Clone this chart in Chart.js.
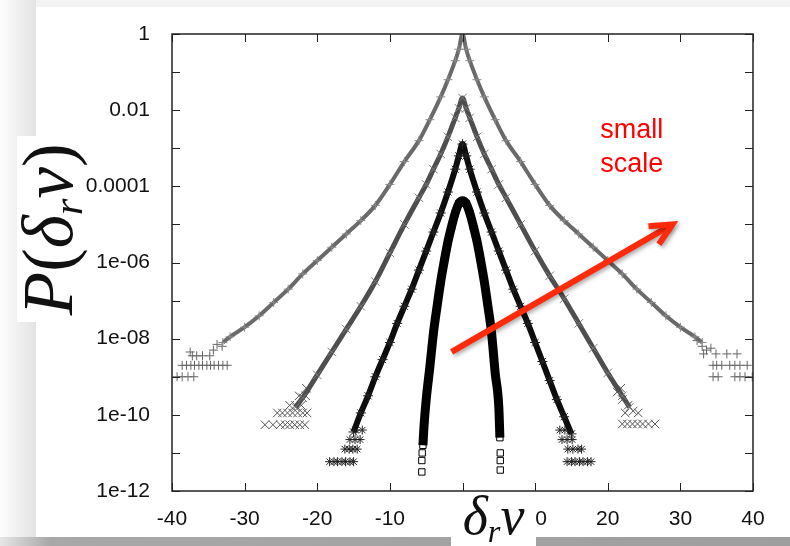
<!DOCTYPE html>
<html>
<head>
<meta charset="utf-8">
<script src="https://cdn.jsdelivr.net/npm/chart.js@4.4.1/dist/chart.umd.min.js"></script>
<style>
  html, body { margin: 0; padding: 0; background: #f3f3f3; }
  #wrap { position: relative; width: 790px; height: 546px; overflow: hidden; background: #f3f3f3; }
  #side { position: absolute; left: 0; top: 0; width: 36px; height: 546px; background: linear-gradient(to right, #fdfdfd, #e3e3e3); }
  #card { position: absolute; left: 36px; top: 7px; width: 800px; height: 530px; background: #fff; }
  #shadow { position: absolute; left: 0; top: 537px; width: 790px; height: 9px; background: linear-gradient(to right, #e6e6e6 0, #a8a8a8 50px, #9e9e9e 100%); }
  #c { position: absolute; left: 0; top: 0; }
  .lbl { position: absolute; background: #fff; display: flex; align-items: center; justify-content: center; white-space: nowrap;
         font-family: "Liberation Serif", "DejaVu Serif", serif; color: #111; }
  #ylab { left: 17px; top: 136px; width: 66px; height: 186px; font-size: 71px; }
  #ylab span { display: inline-block; transform: rotate(-90deg); }
  #xlab { left: 451px; top: 492px; width: 85px; height: 54px; font-size: 54px; align-items: flex-start; line-height: 48px; }
  sub { font-size: 0.6em; vertical-align: -0.25em; }
</style>
</head>
<body>
<div id="wrap">
  <div id="side"></div>
  <div id="card"></div>
  <div id="shadow"></div>
  <canvas id="c" width="790" height="546"></canvas>
  <div class="lbl" id="ylab"><span><i>P</i>(<i>δ</i><sub><i>r</i></sub><i>v</i>)</span></div>
  <div class="lbl" id="xlab"><span><i>δ</i><sub><i>r</i></sub><i>v</i></span></div>
</div>
<script>
// ticks
const xTickValues = [-40, -30, -20, -10, 0, 10, 20, 30, 40];
const yTickValues = [1e-12, 1e-11, 1e-10, 1e-9, 1e-8, 1e-7, 1e-6, 1e-5, 1e-4, 1e-3, 1e-2, 1e-1, 1];
const yTickLabels = ['1e-12', '', '1e-10', '', '1e-08', '', '1e-06', '', '0.0001', '', '0.01', '', '1'];

// series, P given as log10 values
// "+" : largest scale
const plusX    = [-33, -32, -30, -28, -26, -24, -22, -20, -18, -16, -14, -12, -10, -8, -6, -4.5, -3, -2, -1, -0.5, 0, 0.5, 1, 2, 3, 4.5, 6, 8, 10, 12, 14, 16, 18, 20, 22, 24, 26, 28, 30, 32, 33];
const plusLogP = [-8.1, -7.95, -7.7, -7.4, -7.05, -6.7, -6.3, -5.95, -5.6, -5.25, -4.9, -4.5, -3.95, -3.35, -2.8, -2.25, -1.65, -1.2, -0.7, -0.4, 0, -0.4, -0.7, -1.2, -1.65, -2.25, -2.8, -3.35, -3.95, -4.5, -4.9, -5.25, -5.6, -5.95, -6.3, -6.7, -7.05, -7.4, -7.7, -7.95, -8.1];
const plusTailX    = [-39.3, -38.6, -37.8, -37, -38.6, -38, -37.4, -36.9, -36.3, -35.8, -35.2, -34.7, -34.2, -33.6, -33, -32.4, -37.5, -37.2, -36.6, -35.8, -34.8, -33.8, -33.1, -34.3,
                      32.3, 33, 33.6, 34.2, 34.9, 33.2, 36.4, 37.8, 34.5, 35, 35.7, 36.8, 37.5, 38.2, 39.2, 34.5, 35.2, 37.5, 38.2, 38.9, 39.9];
const plusTailLogP = [-9, -9, -9, -9, -8.7, -8.7, -8.7, -8.7, -8.7, -8.7, -8.7, -8.7, -8.7, -8.7, -8.7, -8.7, -8.35, -8.45, -8.45, -8.45, -8.45, -8.15, -8.2, -8.3,
                      -8.05, -8.2, -8.3, -8.25, -8.4, -8.4, -8.4, -8.4, -8.7, -8.7, -8.7, -8.7, -8.7, -8.7, -8.7, -9, -9, -9, -9, -9, -9];

// "x"
const crossX    = [-23, -22, -20, -18, -16, -14, -12, -10, -8, -6, -5, -4, -3, -2, -1, -0.5, 0, 0.5, 1, 2, 3, 4, 5, 6, 8, 10, 12, 14, 16, 18, 20, 22, 23];
const crossLogP = [-9.8, -9.55, -8.95, -8.35, -7.75, -7.15, -6.5, -5.75, -5.0, -4.3, -3.95, -3.55, -3.15, -2.7, -2.2, -1.95, -1.68, -1.95, -2.2, -2.7, -3.15, -3.55, -3.95, -4.3, -5.0, -5.7, -6.35, -6.95, -7.6, -8.25, -8.9, -9.5, -9.8];
const crossTailX    = [-27.2, -26.1, -25.1, -24.4, -23.8, -23.1, -22.4, -21.7, -25.5, -24.8, -24.1, -23.4, -22.7, -22, -21.4, -23.8, -23, -22.2, -22.5, -21.6, -21.5,
                       21.3, 22, 22.8, 23.5, 24.2, 22.4, 21.8, 22, 22.7, 23.4, 24.1, 24.8, 25.6, 26.5];
const crossTailLogP = [-10.26, -10.26, -10.26, -10.26, -10.26, -10.26, -10.26, -10.26, -9.95, -9.95, -9.95, -9.95, -9.95, -9.95, -9.95, -9.75, -9.75, -9.75, -9.5, -9.5, -9.3,
                       -9.4, -9.6, -9.75, -9.9, -9.95, -9.95, -9.3, -10.24, -10.24, -10.24, -10.24, -10.24, -10.24, -10.24];

// "*"
const starX    = [-15, -14, -13, -12, -11, -10, -9, -8, -7, -6, -5, -4, -3, -2, -1, -0.5, 0, 0.5, 1, 2, 3, 4, 5, 6, 7, 8, 9, 10, 11, 12, 13, 14, 15];
const starLogP = [-10.45, -9.95, -9.5, -9.0, -8.55, -8.1, -7.6, -7.15, -6.7, -6.2, -5.7, -5.2, -4.7, -4.15, -3.55, -3.2, -2.89, -3.2, -3.55, -4.15, -4.7, -5.2, -5.7, -6.2, -6.7, -7.15, -7.6, -8.1, -8.6, -9.1, -9.6, -10.05, -10.5];
const starTailX    = [-18.3, -17.7, -17.2, -16.6, -16.1, -15.5, -15, -16.2, -15.6, -15.1, -14.5, -15.5, -14.8, -14.1, -14.7, -13.8,
                      14.4, 15, 15.5, 16.1, 16.6, 17.2, 17.7, 14.5, 15.2, 15.9, 16.4, 13.7, 14.4, 15.1, 13.4, 14.1];
const starTailLogP = [-11.23, -11.23, -11.23, -11.23, -11.23, -11.23, -11.23, -10.9, -10.9, -10.9, -10.9, -10.65, -10.65, -10.65, -10.4, -10.4,
                      -11.23, -11.23, -11.23, -11.23, -11.23, -11.23, -11.23, -10.9, -10.9, -10.9, -10.9, -10.65, -10.65, -10.65, -10.4, -10.4];

// squares : smallest scale
const squareX    = [-5.45, -5.3, -5, -4.5, -4, -3.5, -3, -2.5, -2, -1.5, -1, -0.5, 0, 0.5, 1, 1.5, 2, 2.5, 3, 3.5, 4, 4.5, 5, 5.15];
const squareLogP = [-10.8, -10.3, -9.6, -8.75, -7.85, -7.15, -6.5, -5.95, -5.45, -5.05, -4.7, -4.45, -4.38, -4.45, -4.7, -5.05, -5.45, -5.95, -6.5, -7.15, -7.85, -8.9, -9.8, -10.6];
const squareTailX    = [-5.55, -5.6, -5.6, 5.2, 5.2, 5.2];
const squareTailLogP = [-11.0, -11.2, -11.5, -11.0, -11.2, -11.45];

// annotation (data coordinates)
const arrowTail = [-1.5, 4.5e-9];
const arrowHead = [28.9, 1.0e-5];
const noteLines = ['small', 'scale'];
const notePos   = [23.3, 1.86e-3];

const FONT = '"Liberation Sans", Arial, sans-serif';

function pts(xs, logs) { return xs.map((x, i) => ({ x: x, y: Math.pow(10, logs[i]) })); }

function core(xs, logs, style, line, mark, lw, r) {
  return { data: pts(xs, logs), showLine: true, cubicInterpolationMode: 'monotone', borderColor: line, borderWidth: lw,
           pointStyle: style, pointRadius: r, pointBorderColor: mark, pointBackgroundColor: 'rgba(0,0,0,0)', pointBorderWidth: 1 };
}
function tail(xs, logs, style, color, r) {
  return { data: pts(xs, logs), showLine: false, pointStyle: style, pointRadius: r,
           pointBorderColor: color, pointBackgroundColor: 'rgba(0,0,0,0)', pointBorderWidth: 1 };
}

const framePlugin = {
  id: 'frame',
  afterDatasetsDraw(chart) {
    const { ctx, chartArea: a, scales: { x, y } } = chart;
    ctx.save();
    ctx.strokeStyle = '#222';
    ctx.lineWidth = 1.5;
    ctx.strokeRect(a.left, a.top, a.right - a.left, a.bottom - a.top);
    ctx.lineWidth = 1;
    ctx.beginPath();
    x.ticks.forEach(t => {
      const px = Math.round(x.getPixelForValue(t.value)) + 0.5;
      ctx.moveTo(px, a.bottom); ctx.lineTo(px, a.bottom - 8);
      ctx.moveTo(px, a.top); ctx.lineTo(px, a.top + 8);
    });
    y.ticks.forEach(t => {
      const py = Math.round(y.getPixelForValue(t.value)) + 0.5;
      ctx.moveTo(a.left, py); ctx.lineTo(a.left + 8, py);
      ctx.moveTo(a.right, py); ctx.lineTo(a.right - 8, py);
    });
    ctx.stroke();

    // red arrow
    const x0 = x.getPixelForValue(arrowTail[0]), y0 = y.getPixelForValue(arrowTail[1]);
    const x1 = x.getPixelForValue(arrowHead[0]), y1 = y.getPixelForValue(arrowHead[1]);
    const ang = Math.atan2(y1 - y0, x1 - x0);
    ctx.shadowColor = 'rgba(0,0,0,0.35)';
    ctx.shadowBlur = 4; ctx.shadowOffsetX = 2; ctx.shadowOffsetY = 2;
    ctx.strokeStyle = '#ff2a0a';
    ctx.lineWidth = 6;
    ctx.lineCap = 'butt';
    ctx.lineJoin = 'miter';
    ctx.beginPath();
    ctx.moveTo(x0, y0); ctx.lineTo(x1 - 3 * Math.cos(ang), y1 - 3 * Math.sin(ang));
    ctx.stroke();
    ctx.beginPath();
    ctx.moveTo(x1 + 24 * Math.cos(ang + Math.PI - 0.45), y1 + 24 * Math.sin(ang + Math.PI - 0.45));
    ctx.lineTo(x1, y1);
    ctx.lineTo(x1 + 24 * Math.cos(ang + Math.PI + 0.45), y1 + 24 * Math.sin(ang + Math.PI + 0.45));
    ctx.stroke();

    // note text
    ctx.shadowColor = 'rgba(0,0,0,0)';
    ctx.fillStyle = '#ff0000';
    ctx.font = '27px ' + FONT;
    ctx.textAlign = 'center';
    ctx.textBaseline = 'alphabetic';
    const tx = x.getPixelForValue(notePos[0]), ty = y.getPixelForValue(notePos[1]);
    noteLines.forEach((s, i) => ctx.fillText(s, tx, ty + i * 34));
    ctx.restore();
  }
};

new Chart(document.getElementById('c'), {
  type: 'scatter',
  data: {
    datasets: [
      core(squareX, squareLogP, 'rect', '#000', '#000', 9, 4.5),
      tail(squareTailX, squareTailLogP, 'rect', '#000', 4.5),
      core(starX, starLogP, 'star', '#0c0c0c', '#222', 6, 5),
      tail(starTailX, starTailLogP, 'star', '#222', 4.5),
      core(crossX, crossLogP, 'crossRot', '#4e4e4e', '#7a7a7a', 5, 6),
      tail(crossTailX, crossTailLogP, 'crossRot', '#555', 6),
      core(plusX, plusLogP, 'cross', '#6a6a6a', '#8a8a8a', 4, 4.5),
      tail(plusTailX, plusTailLogP, 'cross', '#666', 4.5)
    ]
  },
  options: {
    responsive: false,
    animation: false,
    devicePixelRatio: 1,
    layout: { padding: { left: 0, top: 34, right: 37, bottom: 0 } },
    plugins: { legend: { display: false }, tooltip: { enabled: false } },
    scales: {
      x: {
        type: 'linear', min: -40, max: 40,
        afterBuildTicks: s => { s.ticks = xTickValues.map(v => ({ value: v })); },
        afterFit: s => { s.height = 55; },
        grid: { display: false }, border: { display: false },
        ticks: { font: { family: FONT, size: 21 }, color: '#111', padding: 8, maxRotation: 0, autoSkip: false }
      },
      y: {
        type: 'logarithmic', min: 1e-12, max: 1,
        afterBuildTicks: s => { s.ticks = yTickValues.map(v => ({ value: v })); },
        afterFit: s => { s.width = 172; },
        grid: { display: false }, border: { display: false },
        ticks: { font: { family: FONT, size: 21 }, color: '#111', padding: 14, autoSkip: false,
                 callback: (v, i) => yTickLabels[i] }
      }
    }
  },
  plugins: [framePlugin]
});
</script>
</body>
</html>
